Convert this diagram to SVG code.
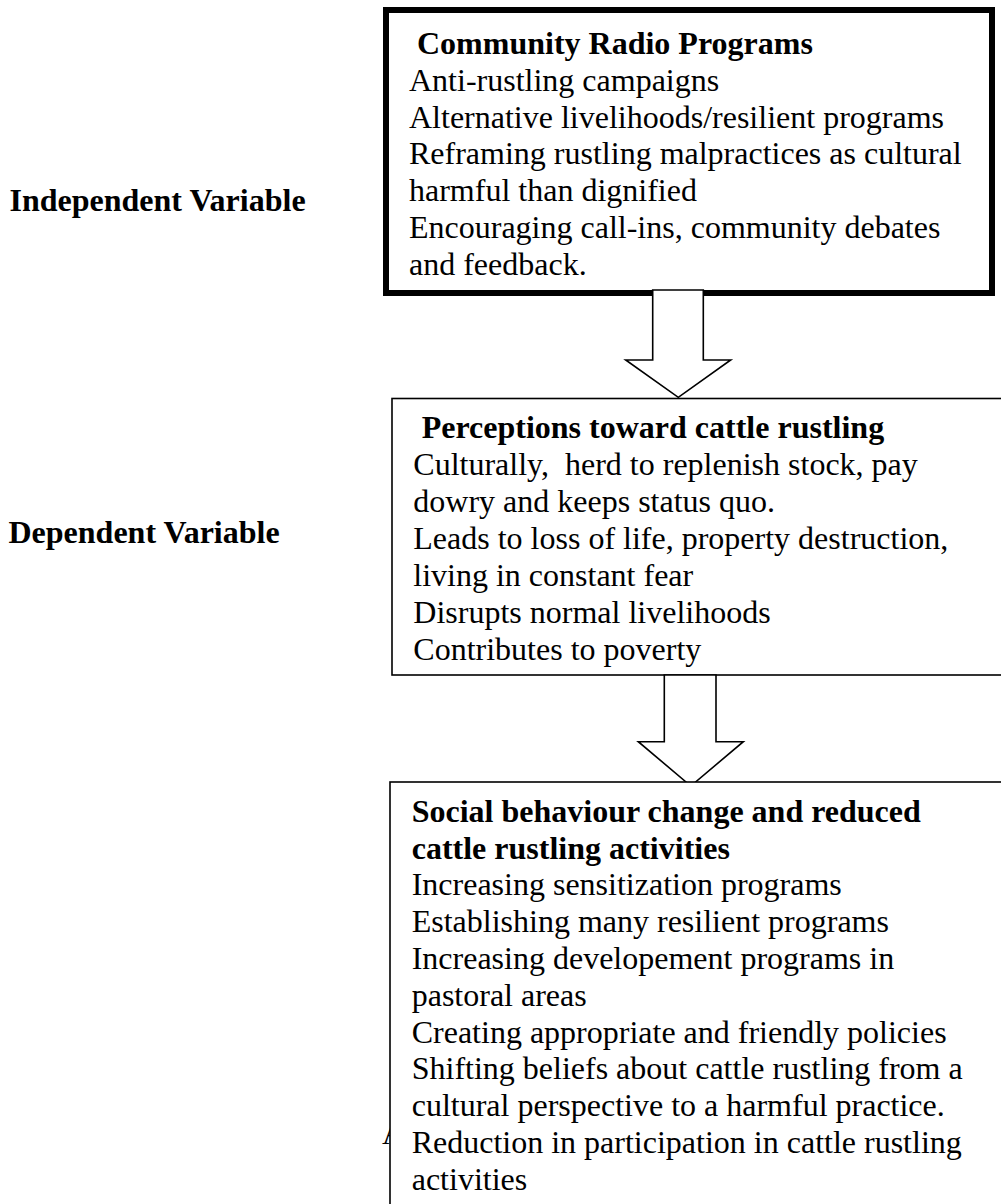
<svg xmlns="http://www.w3.org/2000/svg" width="1001" height="1204" viewBox="0 0 1001 1204">
<style>
text { font-family: "Liberation Serif", "Times New Roman", serif; font-size: 32px; fill: #000; }
.b { font-weight: bold; }
.box { fill: #fff; stroke: #000; }
.arrow { fill: #fff; stroke: #000; stroke-width: 1.6; stroke-linejoin: miter; }
</style>
<rect width="1001" height="1204" fill="#fff"/>
<g id="label-independent"><text class="b" x="9.5" y="211">Independent Variable</text></g>
<g id="label-dependent"><text class="b" x="8.5" y="543">Dependent Variable</text></g>
<g id="node-radio">
<rect class="box" x="386" y="10" width="606" height="283" stroke-width="6"/>
<text class="b" x="417" y="54">Community Radio Programs</text>
<text x="409" y="90.8">Anti-rustling campaigns</text>
<text x="409" y="127.6">Alternative livelihoods/resilient programs</text>
<text x="409" y="164.4">Reframing rustling malpractices as cultural</text>
<text x="409" y="201.2">harmful than dignified</text>
<text x="409" y="238">Encouraging call-ins, community debates</text>
<text x="409" y="274.8">and feedback.</text>
</g>
<g id="node-perceptions">
<rect class="box" x="392" y="398.5" width="640" height="276.5" stroke-width="1.6"/>
<text class="b" x="421.7" y="438">Perceptions toward cattle rustling</text>
<text x="413.3" y="475" style="white-space:pre">Culturally,  herd to replenish stock, pay</text>
<text x="413.3" y="512">dowry and keeps status quo.</text>
<text x="413.3" y="549">Leads to loss of life, property destruction,</text>
<text x="413.3" y="586">living in constant fear</text>
<text x="413.3" y="623">Disrupts normal livelihoods</text>
<text x="413.3" y="660">Contributes to poverty</text>
</g>
<g id="connectors">
<polygon class="arrow" points="652.7,290 703.3,290 703.3,360 730.7,360 678.3,397.3 625.7,360 652.7,360"/>
<polygon class="arrow" points="664.3,675 716,675 716,741.7 743.3,741.7 690.8,786 638.3,741.7 664.3,741.7"/>
</g>
<text x="382" y="1144">A</text>
<g id="node-behaviour">
<rect class="box" x="390" y="782" width="640" height="460" stroke-width="1.6"/>
<text class="b" x="411.7" y="821.7">Social behaviour change and reduced</text>
<text class="b" x="411.7" y="858.5">cattle rustling activities</text>
<text x="411.7" y="895.3">Increasing sensitization programs</text>
<text x="411.7" y="932.1">Establishing many resilient programs</text>
<text x="411.7" y="968.9">Increasing developement programs in</text>
<text x="411.7" y="1005.7">pastoral areas</text>
<text x="411.7" y="1042.5">Creating appropriate and friendly policies</text>
<text x="411.7" y="1079.3">Shifting beliefs about cattle rustling from a</text>
<text x="411.7" y="1116.1">cultural perspective to a harmful practice.</text>
<text x="411.7" y="1152.9">Reduction in participation in cattle rustling</text>
<text x="411.7" y="1189.7">activities</text>
</g>
</svg>
